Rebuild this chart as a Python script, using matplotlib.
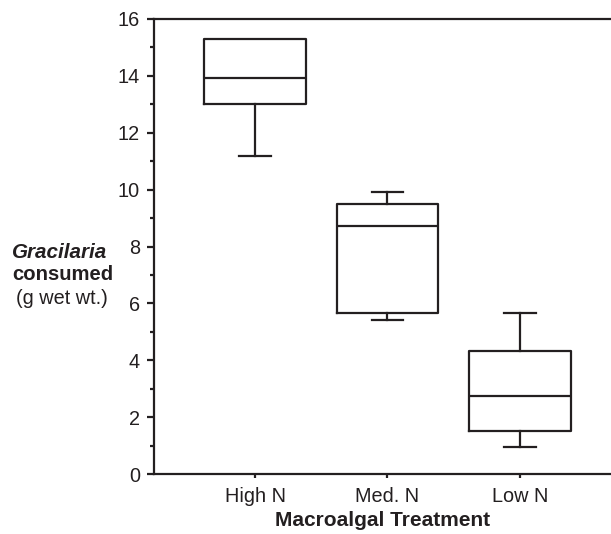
import matplotlib
matplotlib.use('Agg')
import matplotlib.pyplot as plt

plt.rcParams['font.family'] = ['Liberation Sans', 'DejaVu Sans']

# values
treatments = ['High N', 'Med. N', 'Low N']
whisker_low = [11.2, 5.41, 0.95]
q1 = [13.0, 5.66, 1.51]
median = [13.92, 8.72, 2.74]
q3 = [15.3, 9.49, 4.32]
whisker_high = [15.3, 9.92, 5.66]

stats = []
for i, name in enumerate(treatments):
    stats.append({'label': name, 'whislo': whisker_low[i], 'q1': q1[i],
                  'med': median[i], 'q3': q3[i], 'whishi': whisker_high[i],
                  'fliers': []})

fig = plt.figure(figsize=(6.11, 5.34), dpi=100)
ax = fig.add_axes([154 / 611, 1 - 474 / 534, 1 - 154 / 611, (474 - 19) / 534])

ink = '#231f20'
lw = 1.6
line_style = dict(color=ink, linewidth=lw)
parts = ax.bxp(stats, positions=[1, 2, 3], widths=0.77, showfliers=False,
               boxprops=line_style, medianprops=line_style, whiskerprops=line_style,
               capprops=line_style, capwidths=0.24)

# no whisker drawn where the max equals the upper quartile
for i in range(len(treatments)):
    if whisker_high[i] <= q3[i]:
        parts['caps'][2 * i + 1].set_visible(False)
        parts['whiskers'][2 * i + 1].set_visible(False)

ax.set_xlim(0.235, 3.69)
ax.set_ylim(0, 16)
ax.set_yticks(range(0, 17, 2))
ax.set_yticks(range(1, 17, 2), minor=True)
ax.set_xticks([1, 2, 3])
ax.set_xticklabels(treatments)

for side in ['left', 'bottom', 'top']:
    ax.spines[side].set_linewidth(lw)
    ax.spines[side].set_color(ink)
ax.spines['right'].set_visible(False)

ax.tick_params(axis='y', which='major', length=5, width=lw, labelsize=14.3, pad=5, colors=ink)
ax.tick_params(axis='y', which='minor', length=3, width=lw, colors=ink)
ax.tick_params(axis='x', length=3, width=lw, labelsize=14.3, pad=6, colors=ink)

ax.set_xlabel('Macroalgal Treatment', fontsize=15, fontweight='bold', labelpad=4, color=ink)

fig.text(60 / 611, 1 - 252 / 534, 'Gracilaria', fontsize=14.9, fontweight='bold', style='italic',
         ha='center', va='center', color=ink)
fig.text(62.5 / 611, 1 - 275 / 534, 'consumed', fontsize=14.6, fontweight='bold',
         ha='center', va='center', color=ink)
fig.text(61.5 / 611, 1 - 298 / 534, '(g wet wt.)', fontsize=14.3,
         ha='center', va='center', color=ink)

fig.savefig('out.png', dpi=100)
